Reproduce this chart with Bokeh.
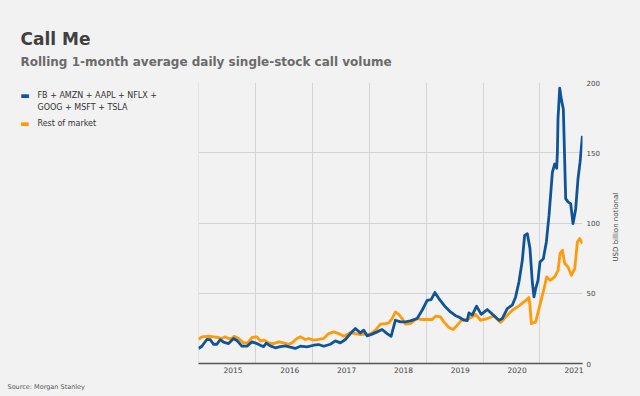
import math
from bokeh.plotting import figure
from bokeh.layouts import column, row
from bokeh.models import Range1d, FixedTicker, Label
from bokeh.embed import file_html
from bokeh.resources import INLINE

try:
    from bokeh.models import GlobalInlineStyleSheet
    page_css = [GlobalInlineStyleSheet(css="body { background: #f2f2f2; }")]
except Exception:
    page_css = []

# ---- data ----
big7_years = [
    2014.394, 2014.453, 2014.541, 2014.600, 2014.658, 2014.717, 2014.776, 2014.834,
    2014.923, 2015.011, 2015.081, 2015.157, 2015.246, 2015.334, 2015.422, 2015.481,
    2015.539, 2015.586, 2015.657, 2015.745, 2015.833, 2015.921, 2016.009, 2016.097,
    2016.185, 2016.303, 2016.420, 2016.508, 2016.596, 2016.714, 2016.802, 2016.890,
    2016.978, 2017.066, 2017.154, 2017.242, 2017.301, 2017.360, 2017.448, 2017.536,
    2017.624, 2017.712, 2017.783, 2017.859, 2017.947, 2018.035, 2018.123, 2018.241,
    2018.329, 2018.417, 2018.487, 2018.552, 2018.623, 2018.740, 2018.828, 2018.916,
    2018.975, 2019.063, 2019.122, 2019.151, 2019.210, 2019.286, 2019.368, 2019.474,
    2019.580, 2019.680, 2019.738, 2019.826, 2019.914, 2019.973, 2020.032, 2020.091,
    2020.132, 2020.179, 2020.226, 2020.267, 2020.296, 2020.326, 2020.367, 2020.402,
    2020.461, 2020.514, 2020.561, 2020.620, 2020.661, 2020.696, 2020.708, 2020.719,
    2020.749, 2020.778, 2020.813, 2020.854, 2020.895, 2020.942, 2020.983, 2021.030,
    2021.071, 2021.107, 2021.148,
]
big7_values = [
    10.7, 12.3, 17.1, 17.0, 13.7, 13.7, 17.0, 15.2,
    14.2, 17.8, 16.0, 12.3, 12.3, 15.4, 14.2, 13.0,
    12.0, 14.5, 12.5, 11.2, 12.0, 12.5, 11.6, 10.7,
    12.3, 11.8, 13.0, 13.5, 12.3, 13.7, 16.1, 14.7,
    17.1, 21.3, 24.9, 21.8, 23.7, 19.7, 20.9, 22.5,
    24.2, 21.3, 19.4, 30.8, 29.6, 29.6, 30.3, 32.0,
    37.9, 45.0, 45.5, 50.5, 46.2, 40.2, 36.7, 34.0,
    33.1, 30.8, 30.5, 36.0, 34.5, 40.8, 35.0, 38.4,
    34.5, 30.8, 32.0, 39.1, 41.5, 47.4, 58.0, 73.4,
    91.2, 92.4, 81.8, 58.0, 47.4, 53.3, 59.2, 72.2,
    74.6, 86.5, 105.4, 136.0, 142.0, 139.0, 150.0, 174.0,
    196.0, 188.0, 181.0, 117.3, 115.0, 113.8, 99.5, 110.0,
    131.5, 143.3, 162.0,
]
rest_years = [
    2014.394, 2014.453, 2014.570, 2014.658, 2014.746, 2014.805, 2014.864, 2014.923,
    2014.982, 2015.022, 2015.099, 2015.187, 2015.258, 2015.334, 2015.422, 2015.481,
    2015.551, 2015.627, 2015.716, 2015.804, 2015.892, 2015.980, 2016.038, 2016.126,
    2016.185, 2016.273, 2016.332, 2016.420, 2016.508, 2016.596, 2016.685, 2016.773,
    2016.861, 2016.949, 2017.066, 2017.154, 2017.242, 2017.330, 2017.419, 2017.507,
    2017.595, 2017.683, 2017.742, 2017.800, 2017.859, 2017.918, 2017.977, 2018.035,
    2018.123, 2018.182, 2018.241, 2018.329, 2018.417, 2018.505, 2018.564, 2018.652,
    2018.711, 2018.799, 2018.875, 2018.946, 2019.034, 2019.122, 2019.210, 2019.269,
    2019.357, 2019.474, 2019.592, 2019.709, 2019.797, 2019.914, 2020.032, 2020.120,
    2020.179, 2020.208, 2020.226, 2020.249, 2020.326, 2020.385, 2020.473, 2020.520,
    2020.579, 2020.661, 2020.720, 2020.755, 2020.796, 2020.837, 2020.896, 2020.954,
    2021.013, 2021.060, 2021.101, 2021.136, 2021.148,
]
rest_values = [
    17.1, 19.0, 19.4, 19.0, 18.5, 17.8, 19.0, 17.8,
    17.8, 19.4, 17.8, 14.7, 14.7, 18.5, 19.0, 16.1,
    16.6, 14.7, 14.2, 15.4, 14.7, 13.7, 14.7, 17.8,
    19.0, 17.1, 17.8, 16.6, 17.1, 17.8, 21.3, 22.5,
    21.3, 19.4, 21.8, 21.3, 20.6, 20.9, 20.9, 23.7,
    28.0, 28.4, 28.9, 32.0, 36.7, 35.0, 32.0, 28.0,
    28.4, 30.3, 32.0, 31.3, 31.3, 31.3, 33.7, 33.2,
    29.6, 25.6, 24.2, 27.3, 31.3, 31.3, 33.2, 35.0,
    30.8, 32.0, 33.8, 29.1, 33.1, 37.9, 41.0, 43.8,
    45.7, 47.0, 41.5, 28.4, 29.6, 39.1, 53.3, 61.6,
    59.2, 61.6, 66.3, 78.2, 80.6, 71.1, 68.7, 62.8,
    67.5, 86.5, 88.9, 86.5, 85.3,
]
x_tick_years = [2015, 2016, 2017, 2018, 2019, 2020, 2021]
x_grid_years = [2014.4, 2015.4, 2016.4, 2017.4, 2018.4, 2019.4, 2020.4]
y_ticks = [0, 50, 100, 150, 200]
series_labels = ["FB + AMZN + AAPL + NFLX +\nGOOG + MSFT + TSLA", "Rest of market"]
y_axis_title = "USD billion notional"

BLUE = "#0f5499"
ORANGE = "#ff9a0a"
BG = "#f2f2f2"
FONT = "DejaVu Sans"

W, H = 640, 396
TOP_H = 76            # title strip (page y 0..76)
BOT_Y = 376           # source strip (page y 376..396)
LEFT_W = 198          # legend column (main frame starts at x=198)
RIGHT_X = 608         # y-axis-title column (page x 608..640)
FT, FB, FR = 82, 363, 582   # main frame top / bottom / right in page pixels
MID_H = BOT_Y - TOP_H


def text_panel(w, h, x0, x1, y_top, y_bottom, border_top=0, border_bottom=0):
    """A plain figure used only to hold texts; data units are page pixels."""
    f = figure(width=w, height=h, output_backend="svg", toolbar_location=None,
               title=None, x_axis_type=None, y_axis_type=None,
               x_range=Range1d(x0, x1), y_range=Range1d(y_bottom, y_top),
               min_border_left=0, min_border_right=0,
               min_border_top=border_top, min_border_bottom=border_bottom)
    f.background_fill_color = BG
    f.border_fill_color = BG
    f.outline_line_color = None
    return f


# ---- title strip ----
top = text_panel(W, TOP_H, 0, W, 0, TOP_H)
top.add_layout(Label(x=20, y=38, text="Call Me", text_font=FONT,
                     text_font_size="17px", text_font_style="bold",
                     text_color="#404040", text_baseline="alphabetic"))
top.add_layout(Label(x=20, y=61.6,
                     text="Rolling 1-month average daily single-stock call volume",
                     text_font=FONT, text_font_size="12px", text_font_style="bold",
                     text_color="#6a6a6a", text_baseline="alphabetic"))

# ---- legend column (frame aligned with the main chart frame) ----
left = text_panel(LEFT_W, MID_H, 0, LEFT_W, FT, FB,
                  border_top=FT - TOP_H, border_bottom=BOT_Y - FB)
first_lines = series_labels[0].split("\n")
legend_rows = [(95, BLUE, first_lines), (122.7, ORANGE, [series_labels[1]])]
for y0, col, lines in legend_rows:
    left.add_layout(Label(x=24.5, y=y0, text="\u25ac", text_font=FONT,
                          text_font_size="10px", text_color=col,
                          text_baseline="middle", text_align="center"))
    for i, line in enumerate(lines):
        left.add_layout(Label(x=37, y=y0 + 11.5 * i, text=line, text_font=FONT,
                              text_font_size="8px", text_color="#333333",
                              text_baseline="middle"))

# ---- y-axis title column ----
right = text_panel(W - RIGHT_X, MID_H, RIGHT_X, W, FT, FB,
                   border_top=FT - TOP_H, border_bottom=BOT_Y - FB)
right.add_layout(Label(x=615, y=226.7, text=y_axis_title, text_font=FONT,
                       text_font_size="7px", text_color="#444444",
                       text_align="center", text_baseline="middle",
                       angle=math.pi / 2))

# ---- source strip ----
bottom = text_panel(W, H - BOT_Y, 0, W, BOT_Y, H)
bottom.add_layout(Label(x=7, y=386.7, text="Source: Morgan Stanley",
                        text_font=FONT, text_font_size="6.5px", text_color="#555555",
                        text_baseline="middle"))

# ---- main chart ----
p = figure(width=RIGHT_X - LEFT_W, height=MID_H, output_backend="svg",
           toolbar_location=None, title=None,
           x_range=Range1d(2014.394, 2021.15), y_range=Range1d(0, 200),
           y_axis_location="right",
           min_border_left=0, min_border_right=RIGHT_X - FR,
           min_border_top=FT - TOP_H, min_border_bottom=BOT_Y - FB)
p.background_fill_color = BG
p.border_fill_color = BG
p.outline_line_color = None

p.xgrid.ticker = FixedTicker(ticks=x_grid_years)
p.ygrid.ticker = FixedTicker(ticks=y_ticks)
p.xgrid.grid_line_color = "#d4d4d4"
p.ygrid.grid_line_color = "#d4d4d4"

p.xaxis.ticker = FixedTicker(ticks=x_tick_years)
p.xaxis.axis_line_color = "#555555"
p.xaxis.axis_line_width = 1.5
p.xaxis.major_tick_line_color = None
p.xaxis.minor_tick_line_color = None
p.xaxis.major_tick_out = 0
p.xaxis.major_tick_in = 0
p.xaxis.minor_tick_out = 0
p.xaxis.major_label_standoff = 3
p.xaxis.major_label_text_font = FONT
p.xaxis.major_label_text_font_size = "7.5px"
p.xaxis.major_label_text_color = "#444444"

p.yaxis.ticker = FixedTicker(ticks=y_ticks)
p.yaxis.axis_line_color = None
p.yaxis.major_tick_line_color = None
p.yaxis.minor_tick_line_color = None
p.yaxis.major_tick_out = 0
p.yaxis.major_tick_in = 0
p.yaxis.minor_tick_out = 0
p.yaxis.major_label_standoff = 4
p.yaxis.major_label_text_font = FONT
p.yaxis.major_label_text_font_size = "7px"
p.yaxis.major_label_text_color = "#444444"

p.line(rest_years, rest_values, line_color=ORANGE, line_width=2.8, line_join="round")
p.line(big7_years, big7_values, line_color=BLUE, line_width=2.8, line_join="round")

layout = column(top, row(left, p, right, spacing=0), bottom, spacing=0)
layout.stylesheets = page_css

open("out.html", "w").write(file_html(layout, INLINE))
